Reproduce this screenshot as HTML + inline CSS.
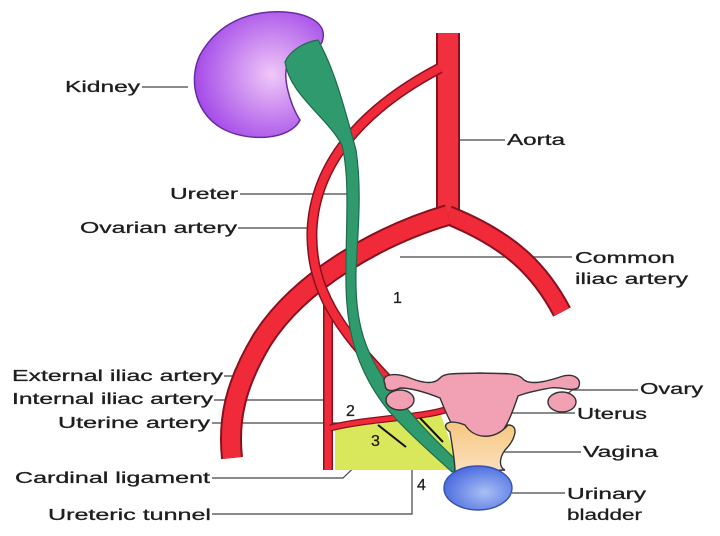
<!DOCTYPE html>
<html><head><meta charset="utf-8"><style>
html,body{margin:0;padding:0;background:#fff;width:720px;height:536px;overflow:hidden}
svg{display:block}
text{font-family:"Liberation Sans",sans-serif;font-size:16px;fill:#1e1e1e;stroke:#1e1e1e;stroke-width:0.3}
</style></head><body>
<svg width="720" height="536" viewBox="0 0 720 536">
<defs>
<radialGradient id="kg" cx="0.6" cy="0.5" r="0.6"><stop offset="0" stop-color="#f0c8f8"/><stop offset="1" stop-color="#a44be8"/></radialGradient>
<radialGradient id="bg" cx="0.6" cy="0.6" r="0.6"><stop offset="0" stop-color="#a8bff5"/><stop offset="1" stop-color="#4f6fe0"/></radialGradient>
<linearGradient id="vg" x1="0" y1="0" x2="0" y2="1"><stop offset="0" stop-color="#f7c67e"/><stop offset="1" stop-color="#fbe0c0"/></linearGradient>
</defs>
<!-- leader lines -->
<g stroke="#444" stroke-width="1.2" fill="none">
<line x1="142" y1="87" x2="188" y2="87"/>
<line x1="460" y1="140" x2="505" y2="140"/>
<line x1="240" y1="194" x2="352" y2="194"/>
<line x1="238" y1="228" x2="308" y2="228"/>
<line x1="400" y1="257" x2="572" y2="257"/>
<line x1="224" y1="376" x2="250" y2="376"/>
<line x1="214" y1="400" x2="325" y2="400"/>
<line x1="212" y1="423" x2="340" y2="423"/>
<polyline points="212,478 343,478 370,452"/>
<polyline points="212,514 412,514 412,460"/>
<polyline points="555,405 572,390 638,390"/>
<line x1="503" y1="413" x2="575" y2="413"/>
<line x1="500" y1="452" x2="581" y2="452"/>
<line x1="512" y1="493" x2="565" y2="493"/>
</g>
<!-- cardinal ligament -->
<polygon points="335,428 440,412 460,470 335,470" fill="#d8e85a"/>
<!-- arteries -->
<g fill="none" stroke-linecap="butt">
<path d="M448,33 V215" stroke="#8a1020" stroke-width="24"/>
<path d="M448,33 V215" stroke="#f0303e" stroke-width="20"/>
<path d="M448,215 C510,240 540,270 562,312" stroke="#8a1020" stroke-width="20"/>
<path d="M448,215 C510,240 540,270 562,312" stroke="#f02a38" stroke-width="16"/>
<path d="M448,215 C380,235 300,280 262,340 C235,385 228,420 232,458" stroke="#8a1020" stroke-width="22"/>
<path d="M448,215 C380,235 300,280 262,340 C235,385 228,420 232,458" stroke="#f02a38" stroke-width="18"/>
<path d="M328,305 V470" stroke="#8a1020" stroke-width="10"/>
<path d="M328,305 V470" stroke="#f02a38" stroke-width="7"/>
<path d="M330,428 C370,418 420,418 445,410" stroke="#8a1020" stroke-width="7"/>
<path d="M330,428 C370,418 420,418 445,410" stroke="#f02a38" stroke-width="4.5"/>
<path d="M440,68 C360,110 315,165 312,230 C310,290 340,330 388,380" stroke="#8a1020" stroke-width="11"/>
<path d="M440,68 C360,110 315,165 312,230 C310,290 340,330 388,380" stroke="#f02a38" stroke-width="8"/>
</g>
<!-- kidney -->
<path d="M270,12 C300,10 330,20 322,42 C318,52 300,50 290,60 C280,72 290,105 300,120 C290,140 250,142 225,130 C195,115 188,80 200,55 C215,28 240,14 270,12 Z" fill="url(#kg)" stroke="#6a2aa0" stroke-width="1.5"/>
<!-- ureter -->
<path d="M285,62 C290,50 305,42 318,40 C335,70 345,110 356,150 C362,190 358,230 356,270 C355,320 362,355 400,400 C420,425 445,450 465,468 L452,472 C430,452 405,430 388,410 C352,365 345,320 346,270 C346,220 350,180 342,145 C325,115 290,95 285,62 Z" fill="#2e9a6e" stroke="#1e6a4a" stroke-width="1.2"/>
<!-- uterus & tubes -->
<g stroke="#333" stroke-width="1.4">
<path d="M385,384 C380,374 395,372 410,378 C425,384 435,384 440,378 C445,372 460,374 480,373 C500,374 515,372 522,378 C528,386 545,382 560,377 C575,372 583,380 578,388 C570,392 560,386 550,388 C540,390 528,392 518,396 C510,420 505,430 495,440 C485,445 475,442 465,440 C452,430 445,410 440,398 C425,392 410,388 400,388 C392,392 385,392 385,384 Z" fill="#f2a0b4"/>
<ellipse cx="400" cy="400" rx="14" ry="10" fill="#f2a0b4"/>
<ellipse cx="562" cy="402" rx="14" ry="10" fill="#f2a0b4"/>
<path d="M450,432 C440,425 448,418 465,425 C475,440 495,440 508,425 C520,425 515,440 505,450 C498,460 500,468 505,470 L455,472 C455,460 452,445 450,432 Z" fill="url(#vg)"/>
<ellipse cx="478" cy="488" rx="34" ry="22" fill="url(#bg)" stroke="#3550b0"/>
</g>
<g stroke="#111" stroke-width="2">
<line x1="378" y1="425" x2="406" y2="447"/>
<line x1="420" y1="418" x2="443" y2="442"/>
</g>
<!-- labels -->
<g lengthAdjust="spacingAndGlyphs">
<text x="65" y="92" textLength="75" lengthAdjust="spacingAndGlyphs">Kidney</text>
<text x="507" y="145" textLength="58" lengthAdjust="spacingAndGlyphs">Aorta</text>
<text x="170" y="199" textLength="68" lengthAdjust="spacingAndGlyphs">Ureter</text>
<text x="80" y="233" textLength="157" lengthAdjust="spacingAndGlyphs">Ovarian artery</text>
<text x="575" y="263" textLength="100" lengthAdjust="spacingAndGlyphs">Common</text>
<text x="575" y="284" textLength="113" lengthAdjust="spacingAndGlyphs">iliac artery</text>
<text x="393" y="303">1</text>
<text x="12" y="381" textLength="211" lengthAdjust="spacingAndGlyphs">External iliac artery</text>
<text x="12" y="404" textLength="201" lengthAdjust="spacingAndGlyphs">Internal iliac artery</text>
<text x="58" y="428" textLength="152" lengthAdjust="spacingAndGlyphs">Uterine artery</text>
<text x="346" y="416">2</text>
<text x="371" y="446">3</text>
<text x="417" y="490">4</text>
<text x="15" y="483" textLength="195" lengthAdjust="spacingAndGlyphs">Cardinal ligament</text>
<text x="48" y="520" textLength="163" lengthAdjust="spacingAndGlyphs">Ureteric tunnel</text>
<text x="640" y="394" textLength="63" lengthAdjust="spacingAndGlyphs">Ovary</text>
<text x="577" y="419" textLength="70" lengthAdjust="spacingAndGlyphs">Uterus</text>
<text x="583" y="457" textLength="75" lengthAdjust="spacingAndGlyphs">Vagina</text>
<text x="567" y="499" textLength="79" lengthAdjust="spacingAndGlyphs">Urinary</text>
<text x="567" y="520" textLength="75" lengthAdjust="spacingAndGlyphs">bladder</text>
</g>
</svg>
</body></html>
